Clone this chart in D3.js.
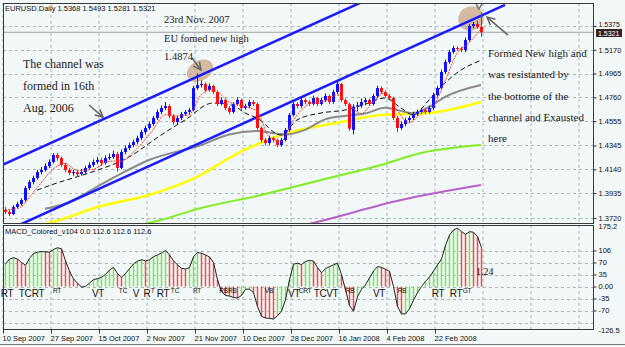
<!DOCTYPE html>
<html><head><meta charset="utf-8">
<script src="https://cdn.jsdelivr.net/npm/d3@7"></script>
<style>html,body{margin:0;padding:0;background:#f2f7f7;} svg{display:block}</style>
</head><body><svg id="c" width="625" height="347"></svg>
<script>
// ---------- DATA ----------
const opens=[1.3790,1.3772,1.3754,1.3815,1.3841,1.3875,1.3978,1.4030,1.4065,1.4116,
1.4134,1.4168,1.4203,1.4263,1.4237,1.4177,1.4134,1.4108,1.4116,1.4099,
1.4116,1.4151,1.4177,1.4203,1.4220,1.4194,1.4237,1.4246,1.4272,1.4151,
1.4289,1.4323,1.4349,1.4375,1.4409,1.4461,1.4496,1.4530,1.4582,1.4634,
1.4668,1.4685,1.4599,1.4547,1.4582,1.4616,1.4634,1.4651,1.4840,1.4866,
1.4875,1.4823,1.4858,1.4806,1.4703,1.4737,1.4668,1.4634,1.4703,1.4737,
1.4668,1.4685,1.4720,1.4703,1.4496,1.4392,1.4366,1.4409,1.4392,1.4349,
1.4392,1.4478,1.4608,1.4703,1.4685,1.4737,1.4720,1.4703,1.4754,1.4703,
1.4737,1.4772,1.4720,1.4806,1.4875,1.4737,1.4703,1.4480,1.4680,1.4690,
1.4720,1.4737,1.4703,1.4772,1.4840,1.4806,1.4772,1.4754,1.4582,1.4496,
1.4530,1.4565,1.4582,1.4616,1.4634,1.4651,1.4634,1.4668,1.4780,1.4840,
1.4978,1.5065,1.5151,1.5185,1.5180,1.5168,1.5254,1.5375,1.5392,1.5368];
const highs=[1.3815,1.3790,1.3830,1.3860,1.3890,1.3995,1.4050,1.4085,1.4135,1.4160,
1.4190,1.4225,1.4280,1.4280,1.4250,1.4195,1.4150,1.4135,1.4130,1.4140,
1.4170,1.4200,1.4225,1.4245,1.4240,1.4260,1.4275,1.4300,1.4290,1.4310,
1.4345,1.4370,1.4395,1.4430,1.4480,1.4515,1.4550,1.4600,1.4655,1.4690,
1.4720,1.4700,1.4615,1.4600,1.4635,1.4650,1.4670,1.4860,1.4965,1.4905,
1.4890,1.4880,1.4870,1.4820,1.4760,1.4750,1.4685,1.4720,1.4760,1.4750,
1.4705,1.4740,1.4735,1.4715,1.4510,1.4410,1.4430,1.4420,1.4405,1.4410,
1.4495,1.4625,1.4720,1.4715,1.4755,1.4750,1.4735,1.4775,1.4765,1.4755,
1.4795,1.4785,1.4825,1.4895,1.4885,1.4750,1.4715,1.4700,1.4720,1.4750,
1.4755,1.4750,1.4790,1.4860,1.4855,1.4820,1.4790,1.4765,1.4600,1.4550,
1.4585,1.4600,1.4635,1.4655,1.4670,1.4665,1.4690,1.4800,1.4860,1.5000,
1.5085,1.5170,1.5205,1.5200,1.5195,1.5275,1.5390,1.5410,1.5420,1.5493];
const lows=[1.3755,1.3735,1.3745,1.3800,1.3825,1.3860,1.3960,1.4010,1.4050,1.4095,
1.4120,1.4150,1.4190,1.4215,1.4160,1.4115,1.4090,1.4085,1.4075,1.4085,
1.4100,1.4135,1.4160,1.4185,1.4170,1.4180,1.4220,1.4230,1.4120,1.4140,
1.4270,1.4305,1.4330,1.4355,1.4390,1.4440,1.4480,1.4515,1.4565,1.4615,
1.4650,1.4580,1.4525,1.4530,1.4565,1.4600,1.4615,1.4640,1.4825,1.4845,
1.4805,1.4810,1.4790,1.4685,1.4690,1.4650,1.4615,1.4620,1.4690,1.4650,
1.4655,1.4670,1.4685,1.4480,1.4370,1.4345,1.4350,1.4370,1.4330,1.4335,
1.4380,1.4465,1.4595,1.4665,1.4670,1.4700,1.4685,1.4690,1.4685,1.4690,
1.4720,1.4700,1.4705,1.4790,1.4720,1.4685,1.4470,1.4440,1.4640,1.4670,
1.4690,1.4685,1.4690,1.4755,1.4790,1.4755,1.4735,1.4565,1.4460,1.4480,
1.4510,1.4545,1.4565,1.4600,1.4615,1.4615,1.4620,1.4650,1.4765,1.4825,
1.4960,1.5050,1.5135,1.5160,1.5150,1.5150,1.5240,1.5355,1.5350,1.5281];
const closes=[1.3772,1.3754,1.3815,1.3841,1.3875,1.3978,1.4030,1.4065,1.4116,1.4134,
1.4168,1.4203,1.4263,1.4237,1.4177,1.4134,1.4108,1.4116,1.4099,1.4116,
1.4151,1.4177,1.4203,1.4220,1.4194,1.4237,1.4246,1.4272,1.4151,1.4289,
1.4323,1.4349,1.4375,1.4409,1.4461,1.4496,1.4530,1.4582,1.4634,1.4668,
1.4685,1.4599,1.4547,1.4582,1.4616,1.4634,1.4651,1.4840,1.4866,1.4875,
1.4823,1.4858,1.4806,1.4703,1.4737,1.4668,1.4634,1.4703,1.4737,1.4668,
1.4685,1.4720,1.4703,1.4496,1.4392,1.4366,1.4409,1.4392,1.4349,1.4392,
1.4478,1.4608,1.4703,1.4685,1.4737,1.4720,1.4703,1.4754,1.4703,1.4737,
1.4772,1.4720,1.4806,1.4875,1.4737,1.4703,1.4490,1.4680,1.4690,1.4720,
1.4737,1.4703,1.4772,1.4840,1.4806,1.4772,1.4754,1.4582,1.4496,1.4530,
1.4565,1.4582,1.4616,1.4634,1.4651,1.4634,1.4668,1.4780,1.4840,1.4978,
1.5065,1.5151,1.5185,1.5180,1.5168,1.5254,1.5375,1.5392,1.5368,1.5321];

// moving averages, key points: [bar index, price]
const maRed=[[0,1.3790],[3,1.3800],[8,1.3980],[12,1.4140],[15,1.4190],[18,1.4130],[22,1.4140],[26,1.4210],[29,1.4210],[33,1.4320],[37,1.4480],[40,1.4610],[43,1.4600],[46,1.4610],[49,1.4780],[52,1.4830],[56,1.4720],[60,1.4680],[63,1.4640],[66,1.4420],[69,1.4380],[72,1.4560],[76,1.4700],[80,1.4730],[83,1.4780],[86,1.4700],[89,1.4620],[92,1.4720],[95,1.4800],[98,1.4650],[101,1.4540],[104,1.4620],[107,1.4680],[110,1.4900],[113,1.5140],[116,1.5230],[119,1.5350]];
const maBlack=[[8,1.3960],[13,1.4022],[21,1.4108],[31,1.4246],[39,1.4435],[45,1.4565],[52,1.4711],[57,1.4690],[60,1.4625],[63,1.4582],[69,1.4435],[73,1.4565],[79,1.4625],[85,1.4651],[90,1.4700],[95,1.4754],[99,1.4668],[102,1.4608],[106,1.4737],[110,1.4884],[114,1.4996],[118,1.5065],[119,1.5080]];
const maGray=[[10,1.3800],[14,1.3832],[26,1.4047],[36,1.4220],[49,1.4349],[56,1.4440],[63,1.4470],[70,1.4440],[75,1.4480],[80,1.4570],[85,1.4600],[90,1.4620],[95,1.4670],[102,1.4625],[106,1.4677],[110,1.4763],[119,1.4866]];
const maYellow=[[8,1.3650],[12,1.3685],[24,1.3823],[36,1.3918],[49,1.4091],[56,1.4237],[69,1.4435],[84,1.4547],[94,1.4608],[106,1.4625],[119,1.4720]];
const maGreen=[[35,1.3670],[38,1.3694],[49,1.3806],[64,1.3918],[79,1.4047],[94,1.4177],[104,1.4280],[119,1.4349]];
const maPurple=[[75,1.3660],[78,1.3685],[99,1.3875],[119,1.4004]];

// channel lines [bar index, price]
const channelUpper=[[-0.5,1.4180],[91.25,1.5613]];
const channelLower=[[4,1.3667],[125,1.5558]];

const macdValues=[65,80,84,80,70,62,82,96,100,102,101,100,108,113,110,75,45,22,10,-2,
0,10,20,23,27,35,48,56,38,27,38,52,66,74,78,75,78,87,92,98,
105,92,75,63,53,51,55,87,99,97,92,86,70,20,-15,-26,-28,-32,-34,-26,
-8,-8,-18,-58,-87,-92,-93,-95,-85,-72,-39,20,65,68,64,73,76,74,55,40,
52,58,63,68,35,-10,-55,-72,-30,-8,5,25,45,58,56,50,44,0,-58,-80,
-80,-65,-40,-18,0,15,28,45,63,80,120,150,165,170,160,152,160,158,146,113];

const priceTicks=[1.5375,1.5170,1.4965,1.4760,1.4555,1.4345,1.4140,1.3935,1.3720];
const macdTicks=[175.2,105,70,35,0,-35,-70,-126.5];
const macdTickLabels=["175.2","106","70","35","0.00","-35","-70","-126.5"];
const macdGrid=[105,70,35,0,-35,-70,-105];
const dateTickIdx=[0,12,24,36,48,60,72,84,96,108];
const dateLabels=["10 Sep 2007","27 Sep 2007","15 Oct 2007","2 Nov 2007","21 Nov 2007","10 Dec 2007","28 Dec 2007","16 Jan 2008","4 Feb 2008","22 Feb 2008"];
const gridIdx=[0,12,24,36,48,60,72,84,96,108,120,132,144];
const macdMarks=[[0.5,"RT",1],[5,"TC",1],[8.25,"RT",1],[13,"RT",0],[23.25,"VT",1],[29.5,"TC",0],[32.75,"V",1],[35.5,"R",1],[36.9,"T",0],[39.5,"RT",1],[42.5,"TC",0],[48,"RT",0],[55.75,"RBRB",0],[66,"VB",0],[72.25,"VT",1],[75,"CRT",0],[80.25,"TCVT",1],[86.25,"RB",0],[93.5,"VT",1],[99.25,"RB",0],[108.25,"RT",1],[112.75,"RT",1],[115.5,"GT",0]];
const title="EURUSD.Daily  1.5368 1.5493 1.5281 1.5321";
const macdTitle="MACD_Colored_v104 0.0 112.6 112.6 112.6";
const lastPrice=1.5321;

// ---------- LAYOUT ----------
const L=3,R=593,T=3,B=223,MT=225,MB=329;
const svg=d3.select("#c");
svg.append("rect").attr("width",625).attr("height",347).attr("fill","#f2f7f7");
svg.append("line").attr("x1",0).attr("x2",625).attr("y1",344.5).attr("y2",344.5).attr("stroke","#777");

const x=d3.scaleLinear().domain([0,119]).range([5,481]);
const y=d3.scaleLinear().domain([1.3720,1.5375]).range([218,26]);
const ym=d3.scaleLinear().domain([0,70]).range([286.5,262.5]);

const defs=svg.append("defs");
defs.append("clipPath").attr("id","cm").append("rect").attr("x",L).attr("y",T).attr("width",R-L).attr("height",B-T);
defs.append("clipPath").attr("id","cd").append("rect").attr("x",L).attr("y",MT).attr("width",R-L).attr("height",MB-MT);
const mk=defs.append("marker").attr("id","arr").attr("viewBox","0 0 10 10").attr("refX",9).attr("refY",5)
  .attr("markerWidth",6).attr("markerHeight",6).attr("orient","auto");
mk.append("path").attr("d","M1,1 L9,5 L1,9").attr("fill","none").attr("stroke","#666").attr("stroke-width",1.6);

const gridColor="#a8b6b6";
const g=svg.append("g");
gridIdx.forEach(i=>{
  [[T,B],[MT,MB]].forEach(([a,b])=>g.append("line").attr("x1",x(i)-2).attr("x2",x(i)-2).attr("y1",a).attr("y2",b)
    .attr("stroke",gridColor).attr("stroke-dasharray","3,3"));
});
priceTicks.forEach(p=>g.append("line").attr("x1",L).attr("x2",R).attr("y1",Math.round(y(p))+0.5).attr("y2",Math.round(y(p))+0.5)
  .attr("stroke",gridColor).attr("stroke-dasharray","3,3"));
macdGrid.forEach(v=>g.append("line").attr("x1",L).attr("x2",R).attr("y1",Math.round(ym(v))+0.5).attr("y2",Math.round(ym(v))+0.5)
  .attr("stroke",gridColor).attr("stroke-dasharray","3,3"));

// main panel content
const main=svg.append("g").attr("clip-path","url(#cm)");
main.append("line").attr("x1",L).attr("x2",R).attr("y1",y(lastPrice)).attr("y2",y(lastPrice)).attr("stroke","#a0a0a0");

const ln=d3.line().x(d=>x(d[0])).y(d=>y(d[1])).curve(d3.curveMonotoneX);
const ln2=d3.line().x(d=>x(d[0])).y(d=>y(d[1]));
main.append("path").attr("d",ln(maPurple)).attr("fill","none").attr("stroke","#b860c8").attr("stroke-width",2);
main.append("path").attr("d",ln(maGreen)).attr("fill","none").attr("stroke","#80ee20").attr("stroke-width",2);
main.append("path").attr("d",ln(maYellow)).attr("fill","none").attr("stroke","#ffff00").attr("stroke-width",2.5);
main.append("path").attr("d",ln(maGray)).attr("fill","none").attr("stroke","#8a8a8a").attr("stroke-width",2);
main.append("path").attr("d",ln(maBlack)).attr("fill","none").attr("stroke","#111").attr("stroke-width",1).attr("stroke-dasharray","5,3");

[[48.75,1.4990,14,10],[116.5,1.5440,13,12]].forEach(([i,p,rx,ry])=>{
  main.append("ellipse").attr("cx",x(i)).attr("cy",y(p)).attr("rx",rx).attr("ry",ry)
   .attr("transform",`rotate(-30,${x(i)},${y(p)})`).attr("fill","#c9a583").attr("opacity",0.75);
});

main.append("path").attr("d",ln2(channelUpper)).attr("stroke","#1a1aff").attr("stroke-width",2.5).attr("fill","none");
main.append("path").attr("d",ln2(channelLower)).attr("stroke","#1a1aff").attr("stroke-width",2.5).attr("fill","none");

const cg=main.append("g");
closes.forEach((c,i)=>{
  const o=opens[i],col=c>=o?"#1010ff":"#ff1010";
  cg.append("line").attr("x1",x(i)+0.5).attr("x2",x(i)+0.5).attr("y1",y(highs[i])).attr("y2",y(lows[i])).attr("stroke",col);
  const top=y(Math.max(o,c)),bot=y(Math.min(o,c));
  cg.append("rect").attr("x",x(i)-1).attr("y",top).attr("width",3).attr("height",Math.max(1,bot-top)).attr("fill",col);
});
main.append("path").attr("d",ln(maRed)).attr("fill","none").attr("stroke","#f04028").attr("stroke-width",1).attr("stroke-dasharray","2,1");

const arrows=[[[21,1.4694],[24.5,1.4590]],[[46.75,1.5099],[49,1.4996]],[[125.75,1.5297],[120.5,1.5452]]];
arrows.forEach(a=>main.append("path").attr("d",ln2(a)).attr("stroke","#666").attr("stroke-width",1.6).attr("fill","none").attr("marker-end","url(#arr)"));
main.append("path").attr("d",`M${x(118.5)-3},${T+1} L${x(118.5)},${T+6} L${x(118.5)+3},${T+1}`).attr("stroke","#777").attr("fill","none").attr("stroke-width",1.5);

const ann=svg.append("g").attr("font-family","'Liberation Serif',serif").attr("fill","#1a1a1a");
[["23rd Nov. 2007",164,23,10.5],["EU fomed new high",164,42,10.5],["1.4874",164,60,10.5],
 ["The channel was",23,68,12],["formed in 16th",23,90,12],["Aug. 2006",23,112,12],
 ["Formed New high and",488,57,11],["was resistanted by",488,78,11],["the bottome of the",488,100,11],["channel and Exausted",488,121,11],["here",488,142,11]]
 .forEach(([t,tx,ty,fs])=>ann.append("text").attr("x",tx).attr("y",ty).attr("font-size",fs).text(t));

// MACD
const md=svg.append("g").attr("clip-path","url(#cd)");
macdValues.forEach((v,i)=>{
  const up=i===0||v>=macdValues[i-1];
  md.append("line").attr("x1",x(i)+0.5).attr("x2",x(i)+0.5).attr("y1",ym(0)).attr("y2",ym(v))
    .attr("stroke",up?"#70e850":"#f84848").attr("stroke-width",1.5);
});
md.append("path").attr("d",d3.line().x((d,i)=>x(i)+0.5).y(d=>ym(d))(macdValues)).attr("fill","none").attr("stroke","#222").attr("stroke-width",1);
const mm=svg.append("g").attr("font-family","'Liberation Sans',sans-serif").attr("fill","#111").attr("text-anchor","middle");
macdMarks.forEach(([i,t,big])=>mm.append("text").attr("x",x(i)).attr("y",big?297:293).attr("font-size",big?10:6.5).attr("letter-spacing",big?-0.4:-0.2).text(t));
svg.append("text").attr("x",476).attr("y",275).attr("font-family","'Liberation Serif',serif").attr("font-size",10).attr("fill","#111").text("1.24");

svg.append("rect").attr("x",L+0.5).attr("y",T+0.5).attr("width",R-L).attr("height",B-T).attr("fill","none").attr("stroke","#3a3a3a");
svg.append("rect").attr("x",L+0.5).attr("y",MT+0.5).attr("width",R-L).attr("height",MB-MT).attr("fill","none").attr("stroke","#3a3a3a");

const fnt="'Liberation Sans',sans-serif";
const ay=svg.append("g").attr("transform",`translate(${R+0.5},0)`).call(d3.axisRight(y).tickValues(priceTicks).tickSize(3).tickPadding(2).tickFormat(d3.format(".4f")));
const ay2=svg.append("g").attr("transform",`translate(${R+0.5},0)`).call(d3.axisRight(ym).tickValues(macdTicks).tickSize(3).tickPadding(2).tickFormat((d,k)=>macdTickLabels[k]));
const ax=svg.append("g").attr("transform",`translate(-2,${MB+0.5})`).call(d3.axisBottom(x).tickValues(dateTickIdx).tickSize(4).tickPadding(2).tickFormat((d,k)=>dateLabels[k]));
[ay,ay2,ax].forEach(a=>{a.select(".domain").remove();a.selectAll("line").attr("stroke","#333");a.selectAll("text").attr("font-family",fnt).attr("font-size",7.5).attr("fill","#111");});
ax.selectAll("text").attr("text-anchor","start").attr("dx",-1);
ay2.selectAll(".tick").filter(d=>d===175.2||d===-126.5).select("line").remove();
ay.selectAll(".tick").filter(d=>d===1.5375).select("text").attr("dy","0.1em").attr("font-size",7);

// current price tag
const tg=svg.append("g").attr("transform",`translate(${R+3},${Math.round(y(lastPrice))})`);
tg.append("rect").attr("x",0).attr("y",-3).attr("width",26).attr("height",8).attr("fill","#3a1f1f");
tg.append("text").attr("x",2).attr("y",3.5).attr("font-family",fnt).attr("font-size",7).attr("fill","#fff").text(d3.format(".4f")(lastPrice));

svg.append("text").attr("x",5).attr("y",11).attr("font-family",fnt).attr("font-size",7.5).attr("fill","#111").text(title);
svg.append("text").attr("x",5).attr("y",234).attr("font-family",fnt).attr("font-size",7.5).attr("fill","#111").text(macdTitle);
</script></body></html>
